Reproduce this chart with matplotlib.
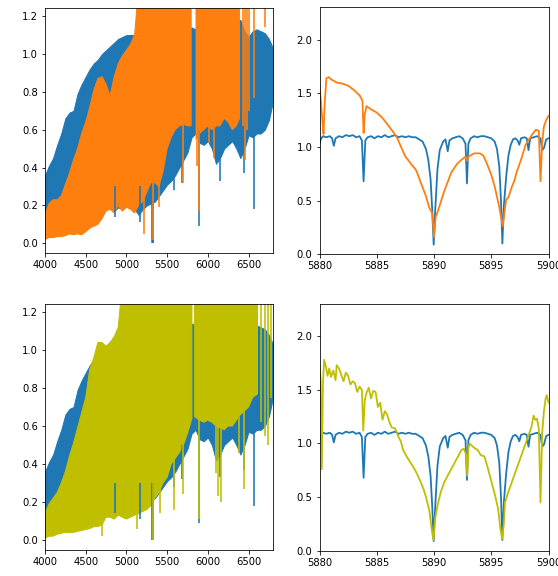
import matplotlib
matplotlib.use("Agg")
import matplotlib.pyplot as plt
import numpy as np

BLUE = "#1f77b4"
ORANGE = "#ff7f0e"
OLIVE = "y"
NAN = np.nan

# ---- broad spectra (left panels): envelopes, 1.35 = above the frame
BLUE_WL = [4000, 4050, 4100, 4150, 4200, 4250, 4300, 4350, 4400, 4450, 4500, 4550,
           4600, 4650, 4700, 4750, 4800, 4850, 4900, 4950, 5000, 5050, 5100, 5150,
           5200, 5250, 5300, 5350, 5400, 5450, 5500, 5550, 5600, 5650, 5700, 5750,
           5800, 5850, 5900, 5950, 6000, 6050, 6100, 6150, 6200, 6250, 6300, 6350,
           6400, 6450, 6500, 6550, 6600, 6650, 6700, 6750, 6800]
BLUE_HI = [0.36, 0.41, 0.45, 0.52, 0.58, 0.66, 0.69, 0.70, 0.79, 0.84, 0.88, 0.92,
           0.95, 0.97, 1.00, 1.02, 1.04, 1.06, 1.08, 1.09, 1.10, 1.10, 1.10, 1.10,
           1.10, 1.10, 1.10, 1.10, 1.10, 1.11, 1.11, 1.11, 1.11, 1.12, 1.12, 1.13,
           1.14, 1.13, 1.12, 1.12, 1.12, 1.13, 1.13, 1.14, 1.15, 1.16, 1.17, 1.17,
           1.18, 1.12, 1.09, 1.12, 1.13, 1.12, 1.11, 1.08, 1.03]
BLUE_LO = [0.11, 0.13, 0.15, 0.18, 0.20, 0.22, 0.24, 0.24, 0.22, 0.22, 0.22, 0.22,
           0.22, 0.22, 0.20, 0.18, 0.20, 0.17, 0.19, 0.18, 0.20, 0.20, 0.18, 0.15,
           0.18, 0.20, 0.21, 0.22, 0.25, 0.28, 0.31, 0.33, 0.36, 0.40, 0.44, 0.48,
           0.56, 0.58, 0.53, 0.52, 0.54, 0.50, 0.42, 0.45, 0.50, 0.52, 0.54, 0.50,
           0.45, 0.50, 0.57, 0.56, 0.58, 0.58, 0.60, 0.65, 0.75]

ORANGE_WL = [4000, 4050, 4100, 4150, 4200, 4250, 4300, 4350, 4400, 4450, 4500, 4550,
             4600, 4650, 4700, 4750, 4800, 4850, 4900, 4950, 5000, 5050, 5100, 5150,
             5200, 5250, 5300, 5350, 5400, 5450, 5500, 5550, 5600, 5650, 5700, 5750,
             5795, 5820, 5855, 5900, 5950, 6000, 6050, 6100, 6150, 6200, 6250, 6300,
             6350, 6390]
ORANGE_HI = [0.15, 0.21, 0.23, 0.23, 0.25, 0.31, 0.37, 0.44, 0.50, 0.58, 0.64, 0.72,
             0.81, 0.87, 0.88, 0.84, 0.78, 0.88, 0.95, 0.99, 1.02, 1.05, 1.10, 1.35,
             1.35, 1.35, 1.35, 1.35, 1.35, 1.35, 1.35, 1.35, 1.35, 1.35, 1.35, 1.35,
             1.35, NAN, 1.35, 1.35, 1.35, 1.35, 1.35, 1.35, 1.35, 1.35, 1.35, 1.35,
             1.35, 1.35]
ORANGE_LO = [0.02, 0.03, 0.03, 0.035, 0.035, 0.04, 0.05, 0.045, 0.05, 0.045, 0.06, 0.08,
             0.09, 0.10, 0.13, 0.17, 0.18, 0.16, 0.20, 0.17, 0.19, 0.18, 0.16, 0.20,
             0.22, 0.27, 0.32, 0.32, 0.30, 0.38, 0.50, 0.56, 0.60, 0.62, 0.63, 0.62,
             0.62, NAN, 0.55, 0.58, 0.60, 0.62, 0.60, 0.62, 0.62, 0.66, 0.64, 0.60,
             0.62, 0.66]

OLIVE_WL = [4000, 4050, 4100, 4150, 4200, 4250, 4300, 4350, 4400, 4450, 4500, 4550,
            4600, 4650, 4700, 4750, 4800, 4850, 4900, 4950, 5000, 5050, 5100, 5150,
            5200, 5250, 5300, 5350, 5400, 5450, 5500, 5550, 5600, 5650, 5700, 5750,
            5805, 5820, 5835, 5900, 5950, 6000, 6050, 6100, 6150, 6200, 6250, 6300,
            6350, 6400, 6450, 6500, 6550, 6610]
OLIVE_HI = [0.14, 0.19, 0.22, 0.25, 0.30, 0.36, 0.44, 0.51, 0.59, 0.67, 0.75, 0.90,
            0.96, 1.04, 1.04, 1.02, 1.04, 1.07, 1.12, 1.35, 1.35, 1.35, 1.35, 1.35,
            1.35, 1.35, 1.35, 1.35, 1.35, 1.35, 1.35, 1.35, 1.35, 1.35, 1.35, 1.35,
            1.35, NAN, 1.35, 1.35, 1.35, 1.35, 1.35, 1.35, 1.35, 1.35, 1.35, 1.35,
            1.35, 1.35, 1.35, 1.35, 1.35, 1.35]
OLIVE_LO = [0.01, 0.02, 0.02, 0.03, 0.035, 0.04, 0.04, 0.04, 0.045, 0.05, 0.055, 0.06,
            0.07, 0.07, 0.08, 0.12, 0.12, 0.11, 0.13, 0.12, 0.11, 0.12, 0.13, 0.14,
            0.15, 0.16, 0.18, 0.22, 0.25, 0.30, 0.33, 0.40, 0.43, 0.46, 0.50, 0.56,
            0.64, NAN, 0.65, 0.63, 0.62, 0.63, 0.62, 0.60, 0.59, 0.58, 0.60, 0.60,
            0.63, 0.66, 0.68, 0.70, 0.75, 0.77]

# ---- single strong lines in the broad spectra: wavelength, bottom, top
BLUE_LINE_W = [4860, 5170, 5312, 5322, 5330, 5580, 5680, 5893, 6150, 6440, 6563]
BLUE_LINE_LO = [0.14, 0.11, 0.0, 0.0, 0.0, 0.28, 0.32, 0.09, 0.33, 0.37, 0.18]
BLUE_LINE_HI = [0.30, 0.30, 0.30, 0.30, 0.30, 0.40, 0.50, 0.60, 0.50, 0.55, 0.70]

ORANGE_LINE_W = [5210, 5322, 5400, 5690, 5865, 5893, 6010, 6070, 6430, 6455, 6480,
                 6505, 6565, 6700]
ORANGE_LINE_LO = [0.05, 0.02, 0.19, 0.32, 0.41, 0.17, 0.53, 0.45, 0.62, 0.44, 0.60,
                  0.70, 0.77, 1.14]
ORANGE_LINE_HI = [0.30, 0.40, 0.40, 0.65, 0.70, 0.70, 0.70, 0.70, 1.35, 1.35, 1.35,
                  1.35, 1.35, 1.35]

OLIVE_LINE_W = [4700, 5130, 5322, 5410, 5580, 5690, 5893, 6100, 6130, 6160, 6380,
                6440, 6650, 6700, 6740, 6770]
OLIVE_LINE_LO = [0.02, 0.06, 0.0, 0.14, 0.16, 0.24, 0.11, 0.35, 0.23, 0.20, 0.46,
                 0.27, 0.62, 0.55, 0.50, 0.75]
OLIVE_LINE_HI = [0.10, 0.20, 0.30, 0.30, 0.45, 0.50, 0.70, 0.65, 0.65, 0.65, 0.65,
                 0.70, 1.35, 1.35, 1.35, 1.35]

# ---- Na D region (right panels)
NA_BLUE_WL = [5880.0, 5880.1, 5880.3, 5880.6, 5880.9, 5881.1, 5881.25, 5881.4, 5881.7,
              5882.0, 5882.3, 5882.6, 5882.9, 5883.2, 5883.5, 5883.7, 5883.85, 5884.0,
              5884.2, 5884.5, 5884.8, 5885.1, 5885.4, 5885.7, 5886.0, 5886.3, 5886.6,
              5886.9, 5887.2, 5887.5, 5887.8, 5888.1, 5888.4, 5888.7, 5889.0, 5889.3,
              5889.5, 5889.7, 5889.85, 5889.97, 5890.1, 5890.3, 5890.5, 5890.8, 5891.0,
              5891.2, 5891.35, 5891.6, 5891.9, 5892.2, 5892.5, 5892.75, 5892.88, 5893.0,
              5893.2, 5893.5, 5893.8, 5894.1, 5894.4, 5894.7, 5895.0, 5895.3, 5895.5,
              5895.7, 5895.85, 5895.97, 5896.1, 5896.3, 5896.5, 5896.7, 5896.9, 5897.1,
              5897.3, 5897.45, 5897.6, 5897.9, 5898.1, 5898.25, 5898.4, 5898.7, 5899.0,
              5899.3, 5899.45, 5899.6, 5899.8, 5900.0]
NA_BLUE = [1.03, 1.07, 1.10, 1.09, 1.10, 1.08, 1.01, 1.08, 1.10,
           1.09, 1.11, 1.10, 1.11, 1.09, 1.10, 1.06, 0.68, 1.06,
           1.09, 1.10, 1.08, 1.10, 1.09, 1.11, 1.09, 1.10, 1.11,
           1.09, 1.10, 1.09, 1.10, 1.09, 1.09, 1.07, 1.05, 0.98,
           0.88, 0.70, 0.40, 0.09, 0.40, 0.79, 0.97, 1.05, 1.07,
           0.96, 1.06, 1.08, 1.09, 1.10, 1.08, 1.03, 0.66, 1.03,
           1.08, 1.10, 1.09, 1.10, 1.10, 1.09, 1.08, 1.05, 0.98,
           0.82, 0.50, 0.10, 0.45, 0.72, 0.92, 1.02, 1.07, 1.08,
           1.06, 1.02, 1.08, 1.09, 1.08, 0.97, 1.08, 1.09, 1.10,
           1.08, 0.97, 0.99, 1.07, 1.08]

NA_ORANGE_WL = [5880.0, 5880.1, 5880.25, 5880.35, 5880.45, 5880.6, 5880.8, 5881.0,
                5881.5, 5882.0, 5882.5, 5883.0, 5883.5, 5883.75, 5883.85, 5883.95,
                5884.1, 5884.5, 5885.0, 5885.5, 5886.0, 5886.5, 5886.8, 5887.2,
                5887.5, 5887.8, 5888.0, 5888.4, 5888.6, 5888.8, 5889.3, 5889.6,
                5889.85, 5890.0, 5890.15, 5890.3, 5890.9, 5891.5, 5892.0, 5892.4,
                5892.75, 5892.9, 5893.0, 5893.5, 5894.0, 5894.3, 5894.6, 5895.0,
                5895.3, 5895.7, 5896.0, 5896.3, 5896.5, 5896.8, 5897.0, 5897.2,
                5897.6, 5898.0, 5898.3, 5898.6, 5898.9, 5899.15, 5899.3, 5899.45,
                5899.6, 5899.8, 5900.0]
NA_ORANGE = [1.55, 1.45, 1.25, 1.12, 1.40, 1.64, 1.65, 1.63,
             1.60, 1.59, 1.57, 1.53, 1.48, 1.43, 1.13, 1.30,
             1.38, 1.35, 1.32, 1.27, 1.20, 1.13, 1.08, 0.98,
             0.91, 0.87, 0.84, 0.79, 0.74, 0.68, 0.54, 0.43,
             0.38, 0.16, 0.35, 0.39, 0.59, 0.76, 0.84, 0.88,
             0.91, 0.87, 0.91, 0.94, 0.94, 0.92, 0.85, 0.74,
             0.63, 0.44, 0.26, 0.51, 0.53, 0.63, 0.68, 0.76,
             0.88, 1.02, 1.07, 1.12, 1.16, 1.15, 0.68, 1.05,
             1.19, 1.25, 1.29]

NA_OLIVE_WL = [5880.0, 5880.1, 5880.2, 5880.3, 5880.4, 5880.55, 5880.7, 5880.85, 5881.0,
               5881.2, 5881.4, 5881.5, 5881.7, 5881.9, 5882.1, 5882.3, 5882.5, 5882.7,
               5882.9, 5883.1, 5883.3, 5883.5, 5883.7, 5883.82, 5883.95, 5884.1, 5884.3,
               5884.5, 5884.7, 5884.9, 5885.1, 5885.3, 5885.5, 5885.7, 5885.9, 5886.1,
               5886.3, 5886.6, 5886.9, 5887.1, 5887.3, 5887.6, 5887.9, 5888.2, 5888.5,
               5888.8, 5889.1, 5889.3, 5889.6, 5889.8, 5889.95, 5890.1, 5890.3, 5890.6,
               5890.9, 5891.2, 5891.5, 5891.8, 5892.1, 5892.4, 5892.6, 5892.8, 5892.9,
               5893.0, 5893.1, 5893.3, 5893.5, 5893.8, 5894.1, 5894.4, 5894.7, 5895.0,
               5895.3, 5895.6, 5895.8, 5895.95, 5896.1, 5896.2, 5896.5, 5896.8, 5897.1,
               5897.4, 5897.7, 5898.0, 5898.3, 5898.5, 5898.7, 5898.85, 5899.0, 5899.15,
               5899.3, 5899.45, 5899.6, 5899.75, 5899.85, 5900.0]
NA_OLIVE = [1.72, 1.60, 0.76, 1.55, 1.78, 1.72, 1.63, 1.70, 1.62,
            1.68, 1.59, 1.73, 1.70, 1.64, 1.58, 1.66, 1.63, 1.55,
            1.58, 1.56, 1.48, 1.53, 1.50, 1.12, 1.40, 1.47, 1.52,
            1.42, 1.49, 1.48, 1.34, 1.38, 1.22, 1.30, 1.27, 1.20,
            1.15, 1.14, 1.06, 1.02, 0.94, 0.88, 0.83, 0.78, 0.72,
            0.65, 0.57, 0.50, 0.37, 0.20, 0.10, 0.30, 0.42, 0.55,
            0.64, 0.70, 0.76, 0.82, 0.88, 0.94, 0.95, 0.90, 0.70,
            0.95, 1.00, 0.98, 0.96, 0.94, 0.89, 0.88, 0.77, 0.65,
            0.53, 0.39, 0.20, 0.11, 0.25, 0.45, 0.55, 0.64, 0.73,
            0.82, 0.91, 1.00, 1.09, 1.15, 1.26, 1.22, 1.23, 1.14,
            0.45, 1.10, 1.30, 1.42, 1.45, 1.38]


def broad_panel(ax, wl2, hi2, lo2, lw2, llo2, lhi2, c2):
    ax.fill_between(BLUE_WL, BLUE_LO, BLUE_HI, color=BLUE, lw=1.0)
    ax.vlines(BLUE_LINE_W, BLUE_LINE_LO, BLUE_LINE_HI, colors=BLUE, lw=1.6)
    ax.fill_between(wl2, lo2, hi2, color=c2, lw=1.0)
    ax.vlines(lw2, llo2, lhi2, colors=c2, lw=1.6)
    ax.set_xlim(4000, 6800)
    ax.set_ylim(-0.053, 1.241)
    ax.set_xticks([4000, 4500, 5000, 5500, 6000, 6500])
    ax.set_yticks([0.0, 0.2, 0.4, 0.6, 0.8, 1.0, 1.2])


def na_panel(ax, wl2, f2, c2):
    ax.plot(NA_BLUE_WL, NA_BLUE, color=BLUE, lw=1.8)
    ax.plot(wl2, f2, color=c2, lw=1.8)
    ax.set_xlim(5880, 5900)
    ax.set_ylim(0, 2.3)
    ax.set_xticks([5880, 5885, 5890, 5895, 5900])
    ax.set_yticks([0.0, 0.5, 1.0, 1.5, 2.0])


fig = plt.figure(figsize=(558 / 72, 576 / 72), dpi=72)
ax1 = fig.add_axes([0.0806, 0.5602, 0.4086, 0.4253])
ax2 = fig.add_axes([0.5726, 0.5585, 0.4104, 0.4288])
ax3 = fig.add_axes([0.0806, 0.0451, 0.4086, 0.4266])
ax4 = fig.add_axes([0.5726, 0.0439, 0.4104, 0.4283])

broad_panel(ax1, ORANGE_WL, ORANGE_HI, ORANGE_LO,
            ORANGE_LINE_W, ORANGE_LINE_LO, ORANGE_LINE_HI, ORANGE)
na_panel(ax2, NA_ORANGE_WL, NA_ORANGE, ORANGE)
broad_panel(ax3, OLIVE_WL, OLIVE_HI, OLIVE_LO,
            OLIVE_LINE_W, OLIVE_LINE_LO, OLIVE_LINE_HI, OLIVE)
na_panel(ax4, NA_OLIVE_WL, NA_OLIVE, OLIVE)

fig.savefig("out.png", dpi=72)
